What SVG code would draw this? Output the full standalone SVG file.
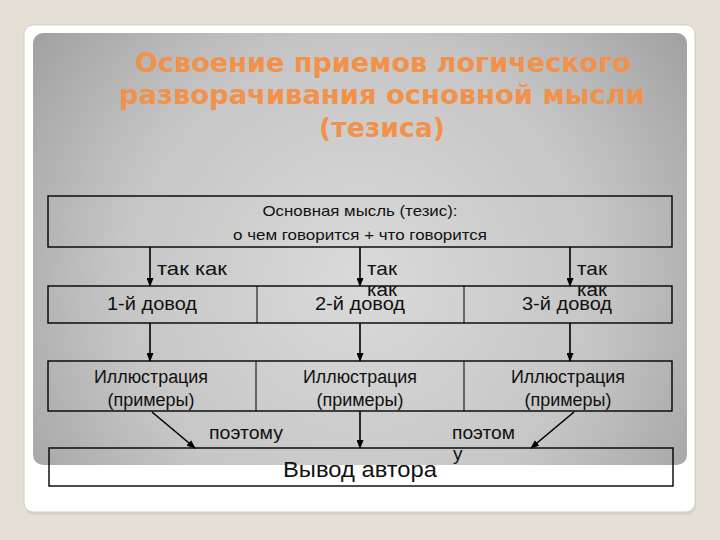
<svg xmlns="http://www.w3.org/2000/svg" width="720" height="540" viewBox="0 0 720 540">
  <defs>
    <radialGradient id="panelGrad" gradientUnits="userSpaceOnUse" cx="360" cy="280" r="430">
      <stop offset="0" stop-color="#dadada"/>
      <stop offset="0.55" stop-color="#c6c6c6"/>
      <stop offset="1" stop-color="#9c9c9c"/>
    </radialGradient>
    <marker id="arrow" markerUnits="userSpaceOnUse" markerWidth="9" markerHeight="7" refX="8" refY="3.5" orient="auto">
      <path d="M0,0 L9,3.5 L0,7 z" fill="#000"/>
    </marker>
    <style>
      .title { font-family: "DejaVu Sans", Verdana, sans-serif; font-weight: bold; font-size: 26px; fill: #f2914a; text-anchor: middle; }
      .box { fill: none; stroke: #000; stroke-width: 1.4; }
      .div { stroke: #000; stroke-width: 1; }
      .t { font-family: "Liberation Sans", Arial, sans-serif; fill: #111; }
      .small { font-size: 15px; text-anchor: middle; }
      .mid { font-size: 18px; text-anchor: middle; }
      .lbl { font-size: 19px; }
      .big { font-size: 22px; text-anchor: middle; }
      .conn { stroke: #000; stroke-width: 1.6; fill: none; marker-end: url(#arrow); }
    </style>
  </defs>

  <rect x="0" y="0" width="720" height="540" fill="#e5dfd6"/>
  <rect x="25" y="28" width="671" height="487" rx="9" fill="#cfcac2" opacity="0.6"/>
  <rect x="24" y="25" width="671" height="487" rx="9" fill="#ffffff" stroke="#cfcfcf" stroke-width="1"/>
  <rect x="33" y="33" width="654" height="432" rx="10" fill="url(#panelGrad)"/>

  <g id="title">
    <text class="title" x="383" y="72" textLength="496" lengthAdjust="spacingAndGlyphs">Освоение приемов логического</text>
    <text class="title" x="382" y="104" textLength="526" lengthAdjust="spacingAndGlyphs">разворачивания основной мысли</text>
    <text class="title" x="382" y="137" textLength="126" lengthAdjust="spacingAndGlyphs">(тезиса)</text>
  </g>

  <g id="thesis">
    <rect class="box" x="48" y="196" width="624" height="51"/>
    <text class="t small" x="360" y="216" textLength="195" lengthAdjust="spacingAndGlyphs">Основная мысль (тезис):</text>
    <text class="t small" x="360" y="240" textLength="254" lengthAdjust="spacingAndGlyphs">о чем говорится + что говорится</text>
  </g>

  <g id="arguments">
    <rect class="box" x="48" y="286" width="624" height="37"/>
    <line class="div" x1="257" y1="286" x2="257" y2="323"/>
    <line class="div" x1="464" y1="286" x2="464" y2="323"/>
    <g id="arg1"><text class="t mid" x="152" y="310" textLength="90" lengthAdjust="spacingAndGlyphs">1-й довод</text></g>
    <g id="arg2"><text class="t mid" x="360" y="310" textLength="90" lengthAdjust="spacingAndGlyphs">2-й довод</text></g>
    <g id="arg3"><text class="t mid" x="567" y="310" textLength="90" lengthAdjust="spacingAndGlyphs">3-й довод</text></g>
  </g>

  <g id="illustrations">
    <rect class="box" x="48" y="361" width="624" height="50"/>
    <line class="div" x1="256" y1="361" x2="256" y2="411"/>
    <line class="div" x1="464" y1="361" x2="464" y2="411"/>
    <g id="ill1">
      <text class="t mid" x="151" y="383" textLength="114" lengthAdjust="spacingAndGlyphs">Иллюстрация</text>
      <text class="t mid" x="151" y="406" textLength="87" lengthAdjust="spacingAndGlyphs">(примеры)</text>
    </g>
    <g id="ill2">
      <text class="t mid" x="360" y="383" textLength="114" lengthAdjust="spacingAndGlyphs">Иллюстрация</text>
      <text class="t mid" x="360" y="406" textLength="87" lengthAdjust="spacingAndGlyphs">(примеры)</text>
    </g>
    <g id="ill3">
      <text class="t mid" x="568" y="383" textLength="114" lengthAdjust="spacingAndGlyphs">Иллюстрация</text>
      <text class="t mid" x="568" y="406" textLength="87" lengthAdjust="spacingAndGlyphs">(примеры)</text>
    </g>
  </g>

  <g id="conclusion">
    <rect class="box" x="49" y="448" width="624" height="38"/>
    <text class="t big" x="360" y="477" textLength="154" lengthAdjust="spacingAndGlyphs">Вывод автора</text>
  </g>

  <g id="connectors">
    <line class="conn" x1="150" y1="247" x2="150" y2="286"/>
    <line class="conn" x1="360" y1="247" x2="360" y2="286"/>
    <line class="conn" x1="570" y1="247" x2="570" y2="286"/>
    <line class="conn" x1="150" y1="323" x2="150" y2="361"/>
    <line class="conn" x1="360" y1="323" x2="360" y2="361"/>
    <line class="conn" x1="570" y1="323" x2="570" y2="361"/>
    <line class="conn" x1="152" y1="412" x2="195" y2="448"/>
    <line class="conn" x1="360" y1="411" x2="360" y2="448"/>
    <line class="conn" x1="574" y1="412" x2="531" y2="448"/>
  </g>

  <g id="labels">
    <text class="t lbl" x="157" y="275" textLength="70" lengthAdjust="spacingAndGlyphs">так как</text>
    <text class="t lbl" x="367" y="275" textLength="30" lengthAdjust="spacingAndGlyphs">так</text>
    <text class="t lbl" x="367" y="296" textLength="30" lengthAdjust="spacingAndGlyphs">как</text>
    <text class="t lbl" x="577" y="275" textLength="30" lengthAdjust="spacingAndGlyphs">так</text>
    <text class="t lbl" x="577" y="296" textLength="30" lengthAdjust="spacingAndGlyphs">как</text>
    <text class="t lbl" x="209" y="439" textLength="74" lengthAdjust="spacingAndGlyphs">поэтому</text>
    <text class="t lbl" x="452" y="439" textLength="63" lengthAdjust="spacingAndGlyphs">поэтом</text>
    <text class="t lbl" x="453" y="460">у</text>
  </g>
</svg>
